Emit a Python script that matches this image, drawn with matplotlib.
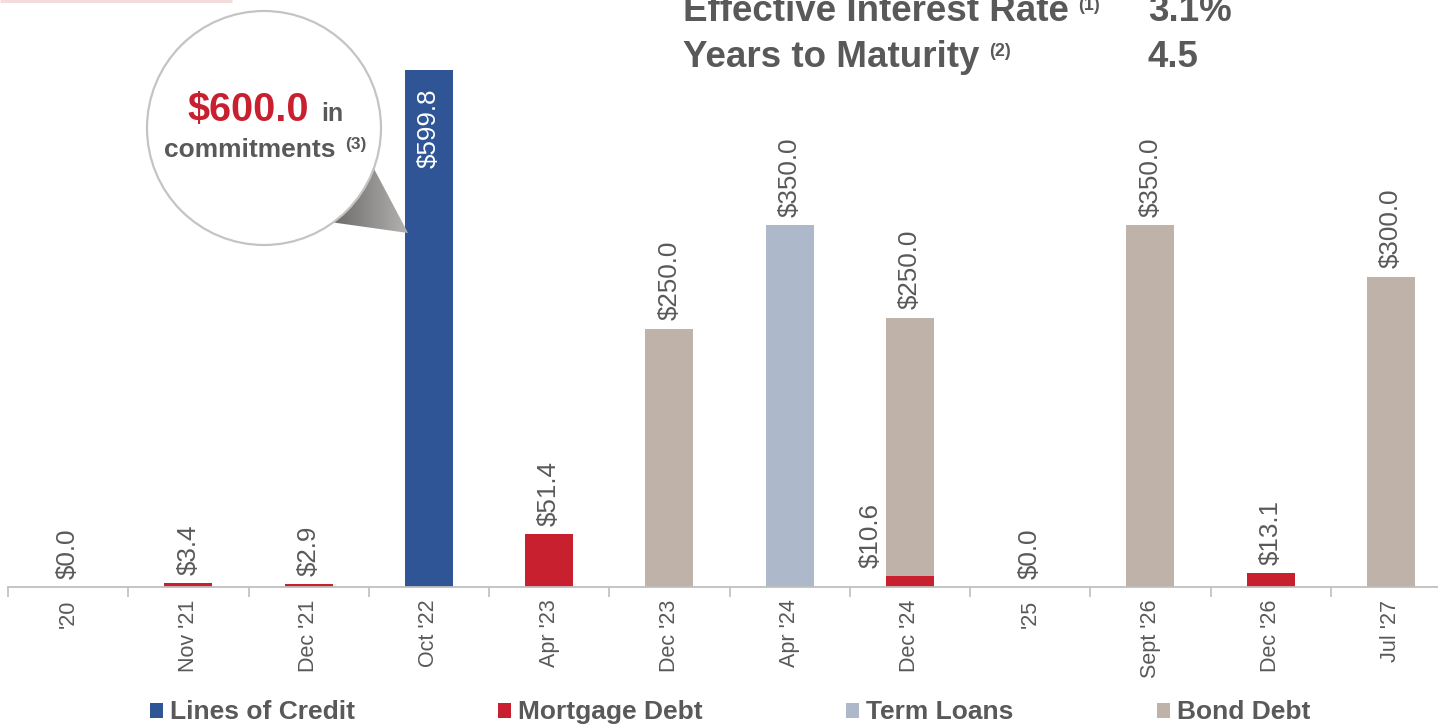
import matplotlib
matplotlib.use("Agg")
import matplotlib.pyplot as plt
import numpy as np
from matplotlib.patches import Circle, Polygon, Rectangle
from matplotlib.colors import LinearSegmentedColormap

# ---------------- data ----------------
categories = ["'20", "Nov '21", "Dec '21", "Oct '22", "Apr '23", "Dec '23",
              "Apr '24", "Dec '24", "'25", "Sept '26", "Dec '26", "Jul '27"]
lines_of_credit = [0, 0, 0, 599.8, 0, 0, 0, 0, 0, 0, 0, 0]
mortgage_debt = [0, 3.4, 2.9, 0, 51.4, 0, 0, 10.6, 0, 0, 13.1, 0]
term_loans = [0, 0, 0, 0, 0, 0, 350.0, 0, 0, 0, 0, 0]
bond_debt = [0, 0, 0, 0, 0, 250.0, 0, 250.0, 0, 350.0, 0, 300.0]
series_names = ["Lines of Credit", "Mortgage Debt", "Term Loans", "Bond Debt"]
series_colors = ["#2f5597", "#c8202f", "#adb9ca", "#bfb3a9"]
summary_labels = ["Effective Interest Rate", "Years to Maturity"]
summary_notes = ["(1)", "(2)"]
summary_values = ["3.1%", "4.5"]
commitments_value = 600.0
commitments_note = "(3)"

GRAY = "#595959"
FONT = ["Liberation Sans", "DejaVu Sans"]
plt.rcParams["font.family"] = FONT

W, H = 1438, 725
fig = plt.figure(figsize=(W / 100, H / 100), dpi=100)

# main axes (pixel layout: baseline y=587, top y=70, x from 8 to 1451)
ax = fig.add_axes([8 / W, 1 - 587 / H, (1451 - 8) / W, (587 - 70) / H])
ymax = 500
ax.set_ylim(0, ymax)
ax.set_xlim(-0.5, len(categories) - 0.5)

x = np.arange(len(categories))
series = [lines_of_credit, mortgage_debt, term_loans, bond_debt]
bottom = np.zeros(len(categories))
for vals, col in zip(series, series_colors):
    v = np.array(vals, dtype=float)
    ax.bar(x, v, width=0.4, bottom=bottom, color=col, zorder=2)
    bottom = bottom + v

# value labels
LFS = 18.7
lab_kw = dict(rotation=90, ha="center", va="bottom", fontsize=LFS,
              color=GRAY, textcoords="offset points")
for i in range(len(categories)):
    segs = [(s[i], n) for s, n in zip(series, series_names) if s[i] > 0]
    if not segs:
        ax.annotate(f"${0:.1f}", (i, 0), xytext=(0, 6), **lab_kw)
        continue
    total = sum(v for v, _ in segs)
    if total > ymax:
        ax.annotate(f"${total:.1f}", (i, ymax), xytext=(0, -13),
                    rotation=90, ha="center", va="top", fontsize=LFS,
                    color="white", textcoords="offset points", zorder=5)
        continue
    if len(segs) > 1:
        base = 0
        for k, (v, n) in enumerate(segs):
            base += v
            if k < len(segs) - 1:
                ax.annotate(f"${v:.1f}", (i - 0.33, base), xytext=(0, 6), **lab_kw)
            else:
                ax.annotate(f"${v:.1f}", (i, base), xytext=(0, 6), **lab_kw)
    else:
        ax.annotate(f"${total:.1f}", (i, total), xytext=(0, 6), **lab_kw)

# axes styling
for s in ["top", "right", "left"]:
    ax.spines[s].set_visible(False)
ax.spines["bottom"].set_color("#bfbfbf")
ax.spines["bottom"].set_linewidth(1.3)
ax.set_yticks([])
ax.set_xticks(x)
ax.set_xticklabels(categories, rotation=90, fontsize=15.5, color=GRAY, va="top")
ax.tick_params(axis="x", which="major", length=0, pad=9)
ax.set_xticks(np.arange(-0.5, len(categories), 1.0), minor=True)
ax.tick_params(axis="x", which="minor", length=7.5, color="#bfbfbf", width=1.2)

# ---------------- overlay in pixel coords ----------------
ov = fig.add_axes([0, 0, 1, 1], zorder=10)
ov.set_xlim(0, W)
ov.set_ylim(H, 0)
ov.axis("off")
ov.patch.set_alpha(0)

# faint line top-left
ov.plot([0, 232], [0.8, 0.8], color="#f6d9d9", lw=2, solid_capstyle="butt")

# callout tail with gradient
tail = Polygon([(372, 165), (408, 233), (330, 222)], closed=True,
               facecolor="none", edgecolor="none")
ov.add_patch(tail)
grad = np.linspace(0, 1, 200).reshape(1, -1)
cmap = LinearSegmentedColormap.from_list("g", ["#6a6867", "#b4b2b0"])
im = ov.imshow(grad, cmap=cmap, extent=(330, 408, 233, 165), aspect="auto",
               zorder=11)
im.set_clip_path(tail)

circ = Circle((264, 128), 117, facecolor="white", edgecolor="#c4c4c4",
              lw=1.6, zorder=12)
ov.add_patch(circ)
ov.text(188, 121, f"${commitments_value:.1f}", fontsize=28.5, fontweight="bold",
        color="#c8202f", ha="left", va="baseline", zorder=13)
ov.text(321, 121, "in", fontsize=18, fontweight="bold", color=GRAY,
        ha="left", va="baseline", zorder=13)
ov.text(164, 157, "commitments", fontsize=19, fontweight="bold", color=GRAY,
        ha="left", va="baseline", zorder=13)
ov.text(345, 149, commitments_note, fontsize=12.5, fontweight="bold", color=GRAY,
        ha="left", va="baseline", zorder=13)

# summary text at top
for k, (lab, note, val) in enumerate(zip(summary_labels, summary_notes, summary_values)):
    yb = 21 + 46 * k
    t = ov.text(683, yb, lab, fontsize=26.5, fontweight="bold", color=GRAY,
                ha="left", va="baseline")
    ov.annotate(note, xy=(1, 1), xycoords=t, xytext=(7, -2),
                textcoords="offset points", fontsize=13, fontweight="bold",
                color=GRAY, ha="left", va="top")
    ov.text(1148, yb, val, fontsize=26.5, fontweight="bold", color=GRAY,
            ha="left", va="baseline")

# legend
leg_x = [150, 498, 846, 1157]
for lx, name, col in zip(leg_x, series_names, series_colors):
    ov.add_patch(Rectangle((lx, 703), 13, 15, facecolor=col, edgecolor="none"))
    ov.text(lx + 20, 719, name, fontsize=19, fontweight="bold", color=GRAY,
            ha="left", va="baseline")

fig.savefig("out.png", dpi=100)
